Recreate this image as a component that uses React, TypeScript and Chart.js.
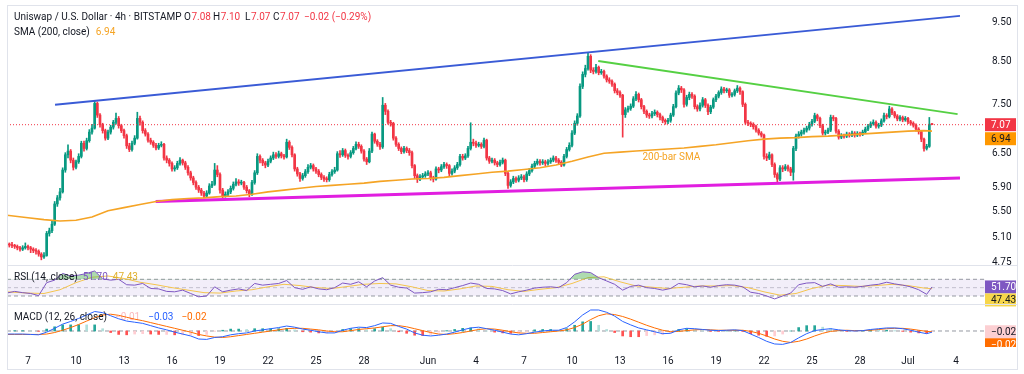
import React, { useEffect, useRef } from "react";
import { Chart, registerables } from "chart.js";
Chart.register(...registerables);

const FONT = "Roboto, 'Liberation Sans', sans-serif";
const TEXT = "#131722";
const GREEN = "#089981";
const RED = "#f23645";
const SMA_COLOR = "#f5a425";
const RSI_COLOR = "#7e57c2";
const RSI_MA_COLOR = "#f4c44e";
const MACD_COLOR = "#2962ff";
const SIGNAL_COLOR = "#ff6d00";

// ---- time axis (days since May 7, 00:00) ----
const X_MIN = -1.3125;
const X_MAX = 59.8125;
const BAR_START_DAY = -4 / 3; // first 4h candle
const BARS_PER_DAY = 6;
const xTickDays = [0, 3, 6, 9, 12, 15, 18, 21, 25, 28, 31, 34, 37, 40, 43, 46, 49, 52, 55, 58];
const xTickLabels = ["7", "10", "13", "16", "19", "22", "25", "28", "Jun", "4", "7", "10", "13", "16", "19", "22", "25", "28", "Jul", "4"];

// ---- price axis ----
const Y_MIN = 4.709;
const Y_MAX = 10.0;
const priceTicks = [4.75, 5.1, 5.5, 5.9, 6.5, 7.5, 8.5, 9.5];

// ---- 4h candles (UNI/USD) ----
const FIRST_OPEN = 5.01;
const closes = [
  5.00,4.99,4.98,4.97,4.95,4.93,4.95,4.97,4.95,4.93,4.91,4.90,
  4.86,4.82,4.84,5.16,5.20,5.30,5.62,5.72,5.82,6.20,6.48,6.55,
  6.38,6.25,6.35,6.45,6.70,6.60,6.75,6.92,7.00,7.52,7.27,7.07,
  6.95,6.80,6.92,7.02,7.12,7.20,7.05,6.95,6.85,6.65,6.58,6.70,
  6.80,7.20,7.12,6.95,6.88,6.76,6.72,6.66,6.61,6.66,6.68,6.42,
  6.38,6.32,6.22,6.24,6.32,6.38,6.33,6.25,6.15,6.06,5.98,5.90,
  5.85,5.80,5.75,5.80,5.92,5.95,6.20,6.12,5.85,5.75,5.78,5.82,
  5.88,5.95,5.99,5.97,5.98,5.90,5.84,5.78,5.98,6.15,6.45,6.38,
  6.33,6.29,6.36,6.42,6.48,6.45,6.50,6.46,6.44,6.72,6.62,6.48,
  6.22,6.13,6.05,6.10,6.17,6.25,6.28,6.22,6.18,6.12,6.07,6.04,
  6.03,6.12,6.17,6.20,6.50,6.48,6.56,6.47,6.45,6.52,6.60,6.68,
  6.64,6.55,6.40,6.35,6.55,6.88,6.74,6.68,6.63,7.48,7.35,7.12,
  7.10,6.80,6.68,6.60,6.54,6.60,6.56,6.52,6.28,6.10,6.04,6.08,
  6.10,6.13,6.15,6.06,6.04,6.22,6.20,6.26,6.30,6.28,6.14,6.18,
  6.24,6.30,6.45,6.42,6.46,6.60,6.72,6.70,6.66,6.68,6.64,6.76,
  6.42,6.36,6.38,6.33,6.30,6.34,6.38,6.14,5.93,5.99,6.05,6.02,
  6.06,6.08,6.03,6.13,6.19,6.27,6.32,6.36,6.33,6.35,6.32,6.35,
  6.38,6.42,6.38,6.34,6.29,6.45,6.58,6.66,6.90,7.10,7.25,7.90,
  8.18,8.32,8.62,8.28,8.25,8.35,8.22,8.25,8.14,8.05,8.02,7.95,
  7.80,7.76,7.70,7.28,7.38,7.41,7.46,7.62,7.72,7.60,7.45,7.35,
  7.27,7.25,7.30,7.33,7.28,7.22,7.16,7.13,7.16,7.27,7.45,7.75,
  7.86,7.82,7.50,7.65,7.72,7.68,7.45,7.40,7.48,7.60,7.48,7.34,
  7.44,7.60,7.68,7.76,7.84,7.80,7.82,7.70,7.72,7.80,7.86,7.78,
  7.50,7.12,7.10,7.08,7.03,6.96,6.90,6.86,6.45,6.42,6.48,6.30,
  6.12,6.04,6.24,6.22,6.26,6.22,6.16,6.60,6.84,6.88,6.92,6.96,
  7.00,7.08,7.14,7.26,7.20,7.05,6.90,6.92,6.96,7.22,7.20,6.94,
  6.82,6.85,6.84,6.88,6.86,6.90,6.86,6.89,6.88,6.92,6.98,7.04,
  7.09,7.12,7.04,7.06,7.15,7.26,7.24,7.40,7.32,7.25,7.19,7.22,
  7.17,7.20,7.13,7.10,7.06,6.98,6.93,6.78,6.60,6.64,7.08,7.07,
];
const highs = [
  5.04,5.02,5.03,5.00,4.99,4.97,4.98,5.02,4.99,4.97,4.95,4.94,
  4.92,4.88,4.88,5.19,5.24,5.36,5.66,5.76,5.88,6.24,6.52,6.67,
  6.58,6.42,6.38,6.50,6.74,6.74,6.80,6.97,7.08,7.58,7.55,7.30,
  7.10,6.98,6.96,7.06,7.16,7.31,7.24,7.08,6.98,6.88,6.70,6.74,
  6.85,7.33,7.25,7.15,6.99,6.91,6.80,6.75,6.70,6.70,6.73,6.70,
  6.46,6.41,6.35,6.28,6.36,6.43,6.40,6.36,6.28,6.18,6.09,6.01,
  5.93,5.88,5.83,5.84,5.96,6.00,6.32,6.28,6.15,5.88,5.82,5.86,
  5.92,5.99,6.05,6.03,6.02,6.00,5.93,5.86,6.02,6.19,6.50,6.48,
  6.41,6.36,6.40,6.46,6.53,6.52,6.55,6.53,6.49,6.78,6.75,6.65,
  6.50,6.25,6.16,6.14,6.21,6.30,6.32,6.31,6.25,6.21,6.15,6.10,
  6.08,6.16,6.21,6.25,6.54,6.56,6.60,6.59,6.50,6.56,6.64,6.73,
  6.72,6.67,6.58,6.43,6.60,6.92,6.90,6.77,6.72,7.65,7.52,7.38,
  7.16,7.12,6.83,6.71,6.63,6.64,6.63,6.60,6.55,6.30,6.13,6.12,
  6.14,6.17,6.19,6.18,6.09,6.26,6.25,6.30,6.34,6.33,6.30,6.22,
  6.28,6.34,6.49,6.49,6.50,6.64,7.11,6.78,6.74,6.72,6.71,6.80,
  6.78,6.45,6.42,6.41,6.36,6.38,6.42,6.40,6.16,6.03,6.09,6.08,
  6.10,6.12,6.11,6.17,6.23,6.31,6.36,6.40,6.39,6.39,6.38,6.39,
  6.42,6.46,6.45,6.41,6.37,6.49,6.62,6.71,6.95,7.15,7.30,7.96,
  8.24,8.40,8.72,8.66,8.34,8.42,8.38,8.30,8.28,8.17,8.10,8.05,
  7.98,7.85,7.80,7.72,7.43,7.46,7.51,7.67,7.78,7.75,7.63,7.48,
  7.38,7.31,7.35,7.38,7.36,7.31,7.25,7.19,7.20,7.31,7.50,7.80,
  7.92,7.90,7.85,7.70,7.77,7.76,7.71,7.49,7.53,7.65,7.63,7.51,
  7.48,7.64,7.72,7.80,7.89,7.88,7.86,7.85,7.76,7.84,7.92,7.89,
  7.80,7.53,7.16,7.13,7.11,7.06,6.99,6.93,6.88,6.50,6.53,6.50,
  6.33,6.15,6.28,6.28,6.30,6.29,6.25,6.64,6.88,6.93,6.96,7.00,
  7.04,7.12,7.18,7.31,7.29,7.23,7.08,6.96,7.00,7.27,7.26,7.22,
  6.97,6.89,6.88,6.92,6.91,6.94,6.93,6.93,6.92,6.96,7.02,7.08,
  7.13,7.17,7.15,7.10,7.19,7.31,7.30,7.46,7.43,7.35,7.28,7.26,
  7.25,7.24,7.22,7.16,7.13,7.09,7.01,6.95,6.80,6.68,7.22,7.10,
];
const lows = [
  4.97,4.96,4.95,4.94,4.92,4.90,4.91,4.93,4.92,4.88,4.88,4.86,
  4.83,4.78,4.80,4.83,5.12,5.17,5.28,5.58,5.68,5.80,6.16,6.42,
  6.33,6.20,6.22,6.32,6.42,6.55,6.57,6.72,6.88,6.98,7.22,7.02,
  6.90,6.76,6.77,6.88,6.98,7.08,7.00,6.91,6.80,6.60,6.54,6.55,
  6.67,6.78,7.06,6.90,6.84,6.72,6.68,6.62,6.57,6.58,6.63,6.38,
  6.33,6.27,6.18,6.18,6.21,6.29,6.29,6.21,6.11,6.02,5.94,5.86,
  5.81,5.76,5.72,5.73,5.78,5.89,5.93,6.08,5.80,5.72,5.73,5.75,
  5.79,5.85,5.92,5.93,5.94,5.86,5.80,5.74,5.76,5.95,6.12,6.33,
  6.28,6.24,6.26,6.33,6.39,6.41,6.42,6.42,6.40,6.42,6.58,6.44,
  6.18,6.09,6.00,6.02,6.07,6.14,6.22,6.18,6.14,6.08,6.03,6.00,
  5.99,6.00,6.09,6.14,6.18,6.43,6.45,6.43,6.40,6.42,6.49,6.57,
  6.60,6.51,6.36,6.30,6.33,6.52,6.70,6.64,6.58,6.60,7.28,7.08,
  7.04,6.76,6.64,6.56,6.50,6.51,6.52,6.47,6.24,6.05,5.98,6.01,
  6.05,6.07,6.10,6.02,5.99,6.02,6.15,6.17,6.23,6.23,6.10,6.11,
  6.15,6.21,6.27,6.38,6.39,6.43,6.57,6.65,6.62,6.63,6.60,6.61,
  6.38,6.32,6.33,6.29,6.26,6.27,6.31,6.10,5.88,5.90,5.96,5.98,
  5.99,6.03,5.99,6.00,6.10,6.16,6.24,6.29,6.29,6.30,6.28,6.29,
  6.32,6.35,6.34,6.30,6.26,6.27,6.42,6.55,6.63,6.87,7.06,7.22,
  7.85,8.12,8.28,8.22,8.19,8.21,8.17,8.18,8.09,8.00,7.97,7.90,
  7.75,7.71,7.65,6.82,7.22,7.33,7.37,7.43,7.58,7.55,7.40,7.30,
  7.22,7.20,7.21,7.26,7.23,7.17,7.11,7.08,7.09,7.12,7.24,7.42,
  7.71,7.76,7.44,7.46,7.60,7.63,7.40,7.35,7.36,7.44,7.43,7.28,
  7.30,7.41,7.56,7.64,7.72,7.75,7.76,7.65,7.66,7.68,7.76,7.72,
  7.45,7.08,7.05,7.03,6.98,6.92,6.86,6.82,6.40,6.37,6.39,6.26,
  6.07,5.97,6.01,6.17,6.19,6.18,6.10,6.02,6.56,6.80,6.84,6.88,
  6.92,6.96,7.04,7.11,7.15,7.01,6.86,6.86,6.89,6.93,7.15,6.90,
  6.78,6.79,6.80,6.81,6.82,6.83,6.82,6.83,6.84,6.85,6.89,6.95,
  7.01,7.06,7.00,7.00,7.03,7.12,7.19,7.21,7.28,7.21,7.15,7.15,
  7.13,7.14,7.09,7.06,7.02,6.94,6.88,6.73,6.55,6.57,6.62,7.07,
];

// ---- SMA(200) sampled daily ----
const sma200 = [
  5.44,5.40,5.37,5.35,5.36,5.41,5.51,5.56,5.61,5.66,5.69,5.71,5.72,5.74,5.75,5.78,
  5.82,5.85,5.88,5.91,5.93,5.95,5.97,6.00,6.02,6.04,6.05,6.07,6.10,6.13,6.16,6.18,
  6.21,6.24,6.29,6.36,6.44,6.51,6.53,6.55,6.57,6.59,6.61,6.64,6.67,6.71,6.75,6.78,
  6.80,6.81,6.83,6.84,6.86,6.88,6.90,6.92,6.94,6.95,6.94,
];

// ---- trend lines: [day, price] ----
const resistanceLine = [[1.69, 7.49], [58.25, 9.69]];
const fallingLine = [[35.64, 8.5], [58.1, 7.29]];
const supportLine = [[7.98, 5.66], [58.25, 6.06]];
const LAST_PRICE = 7.07;
const SMA_LAST = 6.94;
const smaLabelPos = [38.4, 6.42];

// ---- RSI(14) sampled every 12h, plus last bar ----
const rsi = [
  37,41,38,36,31,62,68,84,78,80,84,90,
  71,68,70,57,56,60,48,47,41,40,44,36,
  28,30,52,40,44,47,43,60,56,58,60,67,
  50,46,52,47,45,50,61,58,64,52,66,74,
  56,51,49,37,38,40,46,45,50,55,61,58,
  48,47,43,35,40,44,49,51,52,50,62,82,
  88,86,74,66,58,44,53,56,50,48,44,48,
  60,57,52,54,51,55,57,56,52,39,36,30,
  23,30,37,57,61,62,53,59,51,52,51,53,
  56,58,63,59,56,52,45,34,51.7,
];
// RSI-based MA, sampled daily
const rsiMa = [
  40,37,36,45,62,75,78,72,63,57,50,44,38,37,42,45,52,58,55,50,48,53,58,60,59,52,43,42,47,54,
  53,45,41,46,50,60,74,76,64,54,51,48,51,54,54,55,50,40,32,36,48,56,55,53,55,58,55,49,47.43,
];
const RSI_MIN = 10.8;
const RSI_MAX = 104.3;

// ---- MACD(12,26) sampled every 12h, plus last bar ----
const macd = [
  -0.08,-0.08,-0.08,-0.09,-0.10,-0.03,0.07,0.18,0.25,0.33,0.42,0.51,
  0.48,0.40,0.32,0.26,0.23,0.20,0.14,0.08,0.03,-0.03,-0.08,-0.13,
  -0.21,-0.22,-0.17,-0.15,-0.10,-0.07,-0.05,0.00,0.03,0.06,0.09,0.13,
  0.10,0.05,0.02,-0.02,-0.05,-0.05,0.02,0.07,0.10,0.09,0.14,0.21,
  0.20,0.12,0.05,-0.05,-0.11,-0.13,-0.11,-0.08,-0.03,0.03,0.08,0.10,
  0.06,0.02,-0.03,-0.08,-0.10,-0.07,-0.03,0.00,0.02,0.02,0.09,0.24,
  0.42,0.55,0.55,0.49,0.39,0.25,0.16,0.08,0.03,-0.02,-0.07,-0.06,
  0.03,0.07,0.06,0.04,0.02,0.01,0.02,0.03,0.01,-0.08,-0.17,-0.27,
  -0.34,-0.35,-0.30,-0.18,-0.07,0.01,0.04,0.06,0.03,0.01,0.00,0.01,
  0.04,0.06,0.08,0.08,0.06,0.02,-0.03,-0.07,-0.03,
];
const signal = [
  -0.09,-0.09,-0.09,-0.09,-0.09,-0.08,-0.04,0.02,0.09,0.17,0.26,0.35,
  0.42,0.44,0.41,0.36,0.31,0.27,0.22,0.17,0.12,0.07,0.02,-0.03,
  -0.09,-0.13,-0.16,-0.17,-0.15,-0.12,-0.09,-0.06,-0.03,0.00,0.03,0.06,
  0.07,0.07,0.05,0.03,0.00,-0.02,-0.02,0.01,0.04,0.06,0.08,0.11,
  0.14,0.14,0.11,0.06,0.01,-0.04,-0.08,-0.09,-0.07,-0.04,0.00,0.04,
  0.06,0.05,0.02,-0.02,-0.05,-0.06,-0.06,-0.04,-0.02,0.00,0.03,0.09,
  0.18,0.30,0.40,0.45,0.43,0.38,0.31,0.23,0.15,0.08,0.02,-0.02,
  -0.01,0.01,0.03,0.04,0.03,0.02,0.02,0.02,0.02,-0.01,-0.06,-0.13,
  -0.21,-0.27,-0.30,-0.27,-0.21,-0.13,-0.06,-0.01,0.01,0.02,0.01,0.01,
  0.02,0.04,0.06,0.07,0.07,0.05,0.02,-0.01,-0.02,
];
const MACD_MIN = -0.419;
const MACD_MAX = 0.707;

// ---- legend texts ----
const LEGEND_TITLE = "Uniswap / U.S. Dollar · 4h · BITSTAMP";
const legendOHLC = [["O", "7.08"], ["H", "7.10"], ["L", "7.07"], ["C", "7.07"]];
const legendChange = "−0.02 (−0.29%)";

// ---- derived helpers ----
const LAST_BAR = closes.length - 1;
const barDay = (i: number) => BAR_START_DAY + i / BARS_PER_DAY;
const opens = closes.map((c, i) => (i === 0 ? FIRST_OPEN : closes[i - 1]));
const sampleDay = (k: number) => barDay(Math.min(k * 3, LAST_BAR));
const dailyDays = [BAR_START_DAY, ...Array.from({ length: 57 }, (_, d) => d), barDay(LAST_BAR)];
const pts = (arr: number[][]) => arr.map(([x, y]) => ({ x, y }));
const hLine = (v: number) => [{ x: X_MIN, y: v }, { x: X_MAX, y: v }];

function lineDs(data: any[], color: string, width: number, extra: any = {}) {
  return {
    type: "line",
    data,
    borderColor: color,
    borderWidth: width,
    pointRadius: 0,
    pointHoverRadius: 0,
    fill: false,
    tension: 0,
    order: 0,
    ...extra,
  };
}

function badge(ctx: CanvasRenderingContext2D, yC: number, bg: string, fg: string, text: string) {
  const h = 13;
  ctx.fillStyle = bg;
  ctx.fillRect(985, yC - h / 2, 31, h);
  ctx.fillStyle = fg;
  ctx.textAlign = "left";
  ctx.textBaseline = "middle";
  ctx.fillText(text, 991, yC + 0.5);
}

function seq(ctx: CanvasRenderingContext2D, x: number, y: number, parts: [string, string][], gap: number) {
  let cx = x;
  for (const [t, c] of parts) {
    ctx.fillStyle = c;
    ctx.fillText(t, cx, y);
    cx += ctx.measureText(t).width + gap;
  }
}

const mainOverlay = {
  id: "mainOverlay",
  afterDraw(chart: any) {
    const { ctx } = chart;
    const ys = chart.scales.y;
    const xs = chart.scales.x;
    ctx.save();
    ctx.font = `10px ${FONT}`;
    ctx.textBaseline = "middle";
    ctx.textAlign = "left";
    ctx.fillStyle = TEXT;
    ctx.fillText(LEGEND_TITLE, 14, 17);
    const starts = [184, 213, 245, 273];
    legendOHLC.forEach(([k, v], i) => {
      ctx.fillStyle = TEXT;
      ctx.fillText(k, starts[i], 17);
      const w = ctx.measureText(k).width;
      ctx.fillStyle = RED;
      ctx.fillText(v, starts[i] + w + 0.5, 17);
    });
    ctx.fillStyle = RED;
    ctx.fillText(legendChange, 304, 17);
    seq(ctx, 14, 32, [["SMA (200, close)", TEXT], [SMA_LAST.toFixed(2), SMA_COLOR]], 6);

    // annotation
    ctx.fillStyle = SMA_COLOR;
    ctx.fillText("200-bar SMA", xs.getPixelForValue(smaLabelPos[0]), ys.getPixelForValue(smaLabelPos[1]));

    // price badges
    const y1 = ys.getPixelForValue(LAST_PRICE);
    const y2 = Math.max(ys.getPixelForValue(SMA_LAST), y1 + 14);
    badge(ctx, y1, RED, "#ffffff", LAST_PRICE.toFixed(2));
    badge(ctx, y2, "#ff9800", TEXT, SMA_LAST.toFixed(2));
    ctx.restore();
  },
};

const rsiOverlay = {
  id: "rsiOverlay",
  afterDraw(chart: any) {
    const { ctx, chartArea } = chart;
    const ys = chart.scales.y;
    ctx.save();
    ctx.strokeStyle = "#e0e3eb";
    ctx.lineWidth = 1;
    ctx.beginPath();
    ctx.moveTo(7, chartArea.top + 0.5);
    ctx.lineTo(1018, chartArea.top + 0.5);
    ctx.stroke();
    ctx.font = `10px ${FONT}`;
    ctx.textBaseline = "middle";
    ctx.textAlign = "left";
    const last = rsi[rsi.length - 1];
    const lastMa = rsiMa[rsiMa.length - 1];
    seq(ctx, 14, 15, [["RSI (14, close)", TEXT], [last.toFixed(2), RSI_COLOR], [lastMa.toFixed(2), "#e0b12e"]], 5);
    const y1 = ys.getPixelForValue(last);
    const y2 = Math.max(ys.getPixelForValue(lastMa), y1 + 13);
    badge(ctx, y1, RSI_COLOR, "#ffffff", last.toFixed(2));
    badge(ctx, y2, "#f7d64a", TEXT, lastMa.toFixed(2));
    ctx.restore();
  },
};

const macdOverlay = {
  id: "macdOverlay",
  afterDraw(chart: any) {
    const { ctx, chartArea } = chart;
    const ys = chart.scales.y;
    ctx.save();
    ctx.strokeStyle = "#e0e3eb";
    ctx.lineWidth = 1;
    ctx.beginPath();
    ctx.moveTo(7, chartArea.top + 0.5);
    ctx.lineTo(1018, chartArea.top + 0.5);
    ctx.stroke();
    ctx.font = `10px ${FONT}`;
    ctx.textBaseline = "middle";
    ctx.textAlign = "left";
    const m = macd[macd.length - 1];
    const s = signal[signal.length - 1];
    const fmt = (v: number) => (v < 0 ? "−" : "") + Math.abs(v).toFixed(2);
    seq(ctx, 14, 15, [["MACD (12, 26, close)", TEXT], [fmt(m - s), "rgba(242,54,69,0.35)"], [fmt(m), MACD_COLOR], [fmt(s), SIGNAL_COLOR]], 8);
    const y1 = ys.getPixelForValue(s);
    badge(ctx, y1, "#fccfd2", TEXT, fmt(s));
    ctx.beginPath();
    ctx.rect(0, 0, 1024, chartArea.bottom);
    ctx.clip();
    badge(ctx, y1 + 13, SIGNAL_COLOR, "#ffffff", fmt(s));
    ctx.restore();
  },
};

function mainConfig(): any {
  const colors = closes.map((c, i) => (c >= opens[i] ? GREEN : RED));
  const bodies = closes.map((c, i) => ({ x: barDay(i), y: [opens[i], c] }));
  const wicks = closes.map((c, i) => ({ x: barDay(i), y: [lows[i], highs[i]] }));
  return {
    type: "line",
    data: {
      datasets: [
        lineDs(hLine(LAST_PRICE), RED, 1, { borderDash: [1, 2], order: 1 }),
        lineDs(sma200.map((v, i) => ({ x: dailyDays[i], y: v })), SMA_COLOR, 1.6),
        lineDs(pts(resistanceLine), "#3a5bd6", 2),
        lineDs(pts(fallingLine), "#55d043", 2),
        lineDs(pts(supportLine), "#e11ee0", 3),
        { type: "bar", data: bodies, backgroundColor: colors, barThickness: 2, grouped: false, minBarLength: 1, borderWidth: 0, order: 5 },
        { type: "bar", data: wicks, backgroundColor: colors, barThickness: 1, grouped: false, borderWidth: 0, order: 6 },
      ],
    },
    options: {
      animation: false,
      responsive: false,
      maintainAspectRatio: false,
      events: [],
      layout: { padding: { left: 7, top: 5, right: 0, bottom: 5 } },
      plugins: { legend: { display: false }, tooltip: { enabled: false } },
      scales: {
        x: { type: "linear", min: X_MIN, max: X_MAX, display: false, offset: false },
        y: {
          type: "logarithmic",
          position: "right",
          min: Y_MIN,
          max: Y_MAX,
          bounds: "data",
          afterBuildTicks: (s: any) => {
            s.ticks = priceTicks.map((v) => ({ value: v }));
          },
          afterFit: (s: any) => {
            s.width = 39;
            s.paddingTop = 0;
            s.paddingBottom = 0;
          },
          grid: { display: false, drawTicks: false },
          border: { display: false },
          ticks: {
            autoSkip: false,
            padding: 7,
            color: TEXT,
            font: { size: 10, family: FONT },
            callback: (v: any) => Number(v).toFixed(2),
          },
        },
      },
    },
    plugins: [mainOverlay],
  };
}

function rsiConfig(): any {
  return {
    type: "line",
    data: {
      datasets: [
        lineDs(hLine(70), "#9598a1", 1, { borderDash: [4, 3], order: 3 }),
        lineDs(hLine(30), "#9598a1", 1, { borderDash: [4, 3], order: 3, fill: 0, backgroundColor: "rgba(126,87,194,0.1)" }),
        lineDs(hLine(50), "rgba(149,152,161,0.5)", 1, { borderDash: [4, 3], order: 3 }),
        lineDs(rsiMa.map((v, i) => ({ x: dailyDays[i], y: v })), RSI_MA_COLOR, 1, { order: 1 }),
        lineDs(rsi.map((v, k) => ({ x: sampleDay(k), y: v })), RSI_COLOR, 1, {
          order: 0,
          fill: { target: { value: 70 }, above: "rgba(76,175,80,0.45)", below: "rgba(0,0,0,0)" },
        }),
      ],
    },
    options: {
      animation: false,
      responsive: false,
      maintainAspectRatio: false,
      events: [],
      layout: { padding: { left: 7, top: 3, right: 39, bottom: 3 } },
      plugins: { legend: { display: false }, tooltip: { enabled: false } },
      scales: {
        x: { type: "linear", min: X_MIN, max: X_MAX, display: false, offset: false },
        y: { type: "linear", min: RSI_MIN, max: RSI_MAX, display: false },
      },
    },
    plugins: [rsiOverlay],
  };
}

function macdConfig(): any {
  const hist = macd.map((m, k) => m - signal[k]);
  const histColors = hist.map((h, k) => {
    const p = k > 0 ? hist[k - 1] : h;
    if (h >= 0) return h >= p ? "#26a69a" : "#b2dfdb";
    return h < p ? "#ff5252" : "#ffcdd2";
  });
  return {
    type: "line",
    data: {
      datasets: [
        lineDs(hLine(0), "#9598a1", 1, { borderDash: [4, 3], order: 4 }),
        { type: "bar", data: hist.map((h, k) => ({ x: sampleDay(k), y: h })), backgroundColor: histColors, barThickness: 2, grouped: false, borderWidth: 0, order: 3 },
        lineDs(signal.map((v, k) => ({ x: sampleDay(k), y: v })), SIGNAL_COLOR, 1, { order: 1 }),
        lineDs(macd.map((v, k) => ({ x: sampleDay(k), y: v })), MACD_COLOR, 1, { order: 0 }),
      ],
    },
    options: {
      animation: false,
      responsive: false,
      maintainAspectRatio: false,
      events: [],
      layout: { padding: { left: 7, top: 2, right: 39, bottom: 0 } },
      plugins: { legend: { display: false }, tooltip: { enabled: false } },
      scales: {
        x: {
          type: "linear",
          min: X_MIN,
          max: X_MAX,
          offset: false,
          afterBuildTicks: (s: any) => {
            s.ticks = xTickDays.map((v) => ({ value: v }));
          },
          afterFit: (s: any) => {
            s.height = 27;
            s.paddingLeft = 0;
            s.paddingRight = 0;
          },
          grid: { display: false, drawTicks: false },
          border: { display: false },
          ticks: {
            autoSkip: false,
            maxRotation: 0,
            padding: 8,
            color: TEXT,
            font: { size: 10, family: FONT },
            callback: (_v: any, i: number) => xTickLabels[i] ?? "",
          },
        },
        y: { type: "linear", min: MACD_MIN, max: MACD_MAX, display: false },
      },
    },
    plugins: [macdOverlay],
  };
}

export default function App() {
  const mainRef = useRef<HTMLCanvasElement>(null);
  const rsiRef = useRef<HTMLCanvasElement>(null);
  const macdRef = useRef<HTMLCanvasElement>(null);
  useEffect(() => {
    Chart.defaults.font.family = FONT;
    const charts = [
      new Chart(mainRef.current as HTMLCanvasElement, mainConfig()),
      new Chart(rsiRef.current as HTMLCanvasElement, rsiConfig()),
      new Chart(macdRef.current as HTMLCanvasElement, macdConfig()),
    ];
    return () => charts.forEach((c) => c.destroy());
  }, []);
  return (
    <div style={{ position: "fixed", left: 0, top: 0, width: 1024, height: 374, background: "#ffffff", overflow: "hidden" }}>
      <canvas ref={mainRef} width={1024} height={270} style={{ position: "absolute", left: 0, top: 0 }} />
      <canvas ref={rsiRef} width={1024} height={45} style={{ position: "absolute", left: 0, top: 262 }} />
      <canvas ref={macdRef} width={1024} height={72} style={{ position: "absolute", left: 0, top: 302 }} />
      <div
        style={{
          position: "absolute",
          left: 7,
          top: 5,
          width: 1011,
          height: 365,
          border: "1px solid #e0e3eb",
          boxSizing: "border-box",
          pointerEvents: "none",
        }}
      />
    </div>
  );
}
